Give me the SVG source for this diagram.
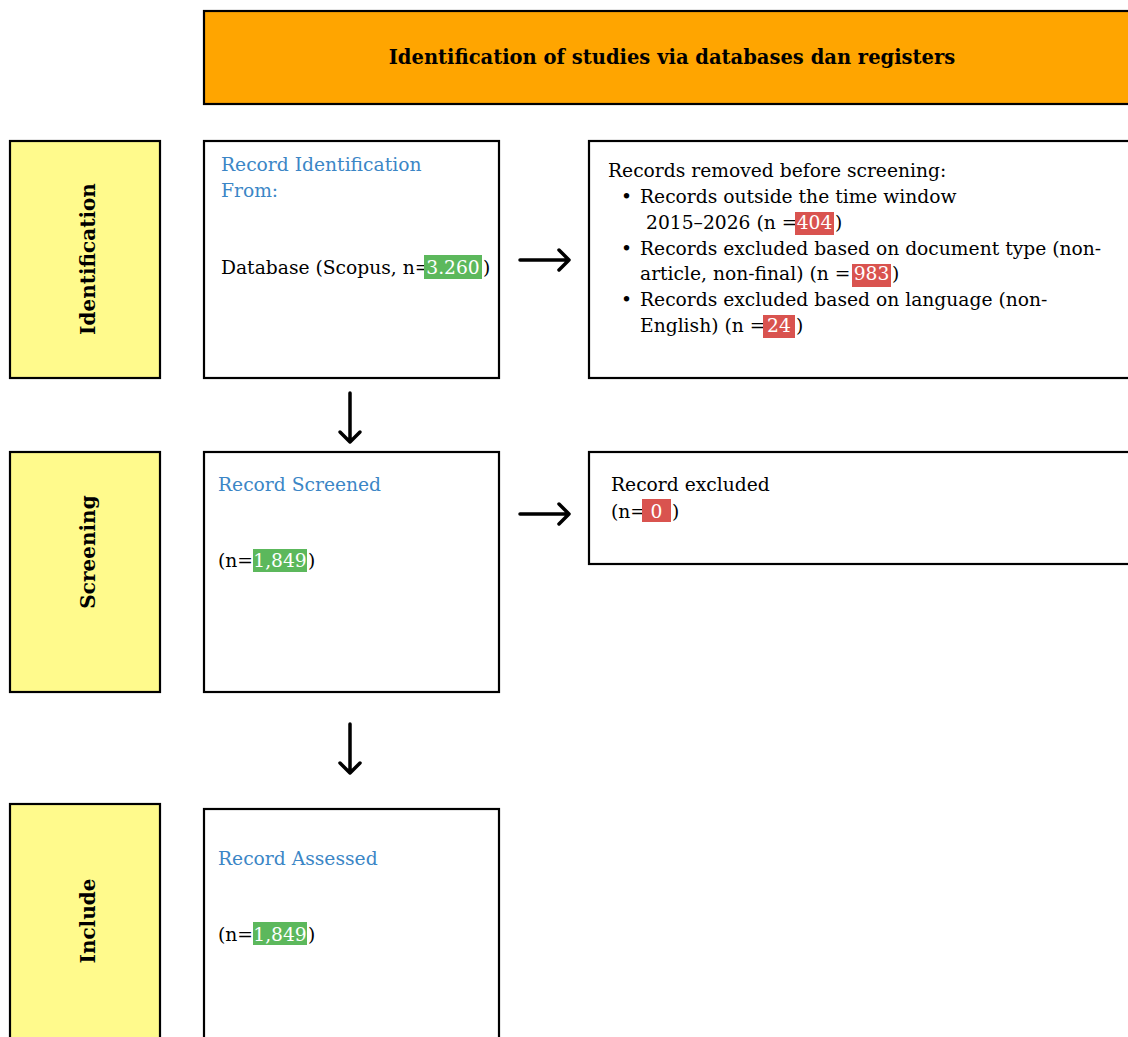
<svg xmlns="http://www.w3.org/2000/svg" width="1128" height="1037" viewBox="0 0 1128 1037">
<style>
.box{fill:#fff;stroke:#000;stroke-width:2.2}
.side{fill:#FFFA8C;stroke:#000;stroke-width:2.2}
.hdr{fill:#FFA500;stroke:#000;stroke-width:2.2}
.t{font-family:"DejaVu Serif","Liberation Serif",serif;font-size:18.7px;fill:#000}
.blue{fill:#3B86C6}
.b{font-weight:bold}
.lab{font-size:20px}
.w{fill:#fff;text-anchor:middle}
.g{fill:#5CB85C}
.r{fill:#D9534F}
.conn{stroke:#000;stroke-width:3.5;fill:none;stroke-linecap:round;stroke-linejoin:round}
</style>
<g id="header">
<rect class="hdr" x="204" y="11" width="930" height="93"/>
<text class="t b" x="672" y="64" text-anchor="middle" style="font-size:19.5px">Identification of studies via databases dan registers</text>
</g>
<g id="stage-identification">
<rect class="side" x="10" y="141" width="150" height="237"/>
<text class="t b lab" transform="translate(95,259) rotate(-90)" text-anchor="middle">Identification</text>
</g>
<g id="stage-screening">
<rect class="side" x="10" y="452" width="150" height="240"/>
<text class="t b lab" transform="translate(95,552) rotate(-90)" text-anchor="middle">Screening</text>
</g>
<g id="stage-include">
<rect class="side" x="10" y="804" width="150" height="240"/>
<text class="t b lab" transform="translate(95,921) rotate(-90)" text-anchor="middle">Include</text>
</g>
<g id="record-identification">
<rect class="box" x="204" y="141" width="295" height="237"/>
<text class="t blue" x="221" y="171">Record Identification</text>
<text class="t blue" x="221" y="197">From:</text>
<text class="t" x="221" y="274">Database (Scopus, n=</text>
<rect class="g" x="424" y="255" width="58" height="24"/>
<text class="t w" x="453" y="274">3.260</text>
<text class="t" x="483" y="274">)</text>
</g>
<g id="records-removed">
<rect class="box" x="589" y="141" width="545" height="237"/>
<text class="t" x="608" y="177">Records removed before screening:</text>
<text class="t" x="621" y="203">•</text>
<text class="t" x="640" y="203">Records outside the time window</text>
<text class="t" x="646" y="229">2015–2026 (n =</text>
<rect class="r" x="795" y="212" width="39" height="23"/>
<text class="t w" x="814.5" y="229">404</text>
<text class="t" x="835" y="229">)</text>
<text class="t" x="621" y="255">•</text>
<text class="t" x="640" y="255">Records excluded based on document type (non-</text>
<text class="t" x="640" y="280">article, non-final) (n =</text>
<rect class="r" x="852" y="264" width="39" height="23"/>
<text class="t w" x="871.5" y="280">983</text>
<text class="t" x="892" y="280">)</text>
<text class="t" x="621" y="306">•</text>
<text class="t" x="640" y="306">Records excluded based on language (non-</text>
<text class="t" x="640" y="332">English) (n =</text>
<rect class="r" x="763" y="315" width="32" height="23"/>
<text class="t w" x="779" y="332">24</text>
<text class="t" x="796" y="332">)</text>
</g>
<g id="record-screened">
<rect class="box" x="204" y="452" width="295" height="240"/>
<text class="t blue" x="218" y="491">Record Screened</text>
<text class="t" x="218" y="567">(n=</text>
<rect class="g" x="253" y="549" width="54" height="23"/>
<text class="t w" x="280" y="567">1,849</text>
<text class="t" x="308" y="567">)</text>
</g>
<g id="record-excluded">
<rect class="box" x="589" y="452" width="545" height="112"/>
<text class="t" x="611" y="491">Record excluded</text>
<text class="t" x="611" y="518">(n=</text>
<rect class="r" x="642" y="499" width="29" height="23"/>
<text class="t w" x="656.5" y="518">0</text>
<text class="t" x="672" y="518">)</text>
</g>
<g id="record-assessed">
<rect class="box" x="204" y="809" width="295" height="240"/>
<text class="t blue" x="218" y="865">Record Assessed</text>
<text class="t" x="218" y="941">(n=</text>
<rect class="g" x="253" y="922" width="54" height="23"/>
<text class="t w" x="280" y="941">1,849</text>
<text class="t" x="308" y="941">)</text>
</g>
<g id="connectors">
<path class="conn" d="M520,260 H569 M559,250 L569,260 L559,270"/>
<path class="conn" d="M520,514 H569 M559,504 L569,514 L559,524"/>
<path class="conn" d="M350,393 V442 M340,432 L350,442 L360,432"/>
<path class="conn" d="M350,724 V773 M340,763 L350,773 L360,763"/>
</g>
</svg>
